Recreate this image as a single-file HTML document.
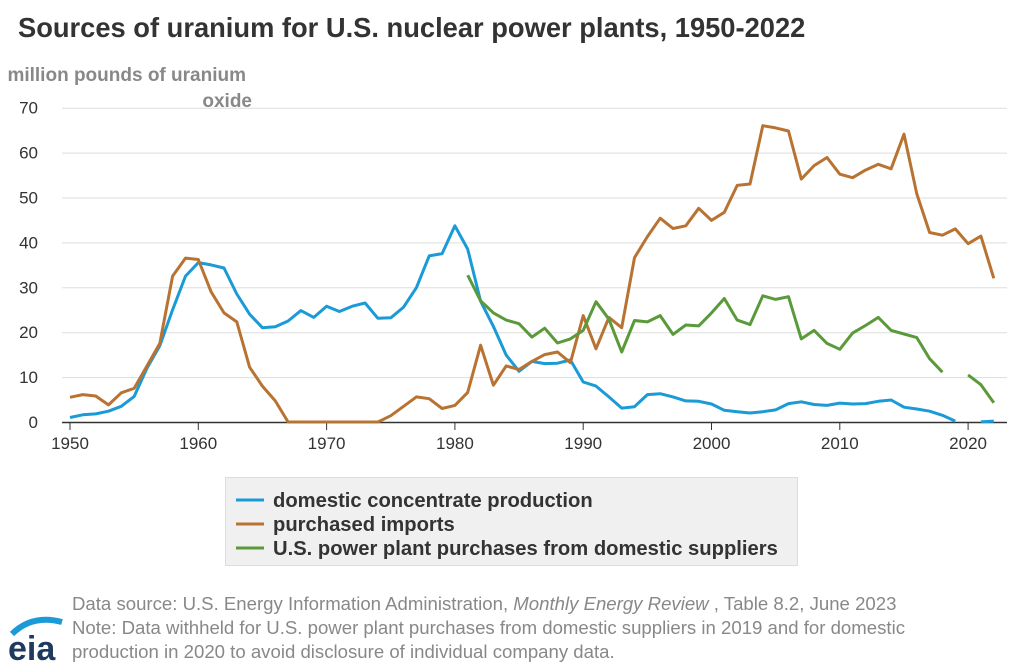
<!DOCTYPE html>
<html><head><meta charset="utf-8"><style>
body{margin:0;width:1024px;height:666px;background:#fff;font-family:"Liberation Sans",sans-serif;overflow:hidden}
</style></head><body>
<svg width="1024" height="666" xmlns="http://www.w3.org/2000/svg" font-family="Liberation Sans, sans-serif">
<text x="18" y="37" font-size="27.3" font-weight="bold" fill="#333">Sources of uranium for U.S. nuclear power plants, 1950-2022</text>
<text x="246" y="81" font-size="19" font-weight="bold" fill="#888" text-anchor="end">million pounds of uranium</text>
<text x="252" y="107" font-size="19" font-weight="bold" fill="#888" text-anchor="end">oxide</text>
<g id="grid" stroke="#ddd" stroke-width="1"></g>
<g id="ylab" font-size="17" fill="#333" text-anchor="end"></g>
<g id="xlab" font-size="17" fill="#333" text-anchor="middle"></g>
<line x1="62" y1="422.5" x2="1007" y2="422.5" stroke="#333" stroke-width="1.5"/>
<g id="series" fill="none" stroke-width="3" stroke-linejoin="round"></g>
<rect x="225.5" y="477.5" width="572" height="88" fill="#f0f0f0" stroke="#ddd"/>
<line x1="236" y1="500" x2="264" y2="500" stroke="#1a9ad6" stroke-width="3"/>
<line x1="236" y1="524" x2="264" y2="524" stroke="#b87333" stroke-width="3"/>
<line x1="236" y1="548" x2="264" y2="548" stroke="#5a9a3a" stroke-width="3"/>
<g font-size="20.2" font-weight="bold" fill="#333">
<text x="273" y="507">domestic concentrate production</text>
<text x="273" y="531">purchased imports</text>
<text x="273" y="555">U.S. power plant purchases from domestic suppliers</text>
</g>
<g font-size="18.6" fill="#888">
<text x="72" y="610">Data source: U.S. Energy Information Administration, <tspan font-style="italic">Monthly Energy Review</tspan> , Table 8.2, June 2023</text>
<text x="72" y="634">Note: Data withheld for U.S. power plant purchases from domestic suppliers in 2019 and for domestic</text>
<text x="72" y="658">production in 2020 to avoid disclosure of individual company data.</text>
</g>
<path d="M12 634 Q32 614 62 622" stroke="#1a9ad6" stroke-width="6" fill="none"/>
<text x="8" y="660" font-size="34" font-weight="bold" fill="#1f3a5f">eia</text>
<script>
var ns="http://www.w3.org/2000/svg";
function X(y){return 70+(y-1950)*12.83}
function Y(v){return 422-v*4.49}
var g=document.getElementById("grid"),yl=document.getElementById("ylab"),xl=document.getElementById("xlab");
for(var v=10;v<=70;v+=10){var l=document.createElementNS(ns,"line");l.setAttribute("x1",62);l.setAttribute("x2",1007);l.setAttribute("y1",Y(v)+.5);l.setAttribute("y2",Y(v)+.5);g.appendChild(l);}
for(var v=0;v<=70;v+=10){var t=document.createElementNS(ns,"text");t.setAttribute("x",38);t.setAttribute("y",Y(v)+6);t.textContent=v;yl.appendChild(t);}
for(var y=1950;y<=2020;y+=10){var t=document.createElementNS(ns,"text");t.setAttribute("x",X(y));t.setAttribute("y",449);t.textContent=y;xl.appendChild(t);
var l=document.createElementNS(ns,"line");l.setAttribute("x1",X(y));l.setAttribute("x2",X(y));l.setAttribute("y1",422);l.setAttribute("y2",430);l.setAttribute("stroke","#333");g.appendChild(l);}
var blue=[1.0,1.6,1.8,2.4,3.5,5.7,12,17,25,32.5,35.5,35,34.3,28.5,24,21,21.2,22.5,24.8,23.3,25.8,24.6,25.8,26.5,23.1,23.2,25.6,29.9,37,37.5,43.7,38.5,26.9,21.3,14.9,11.3,13.5,13,13.1,13.8,8.9,8,5.6,3.1,3.4,6.1,6.3,5.6,4.7,4.6,4,2.6,2.3,2,2.3,2.7,4.1,4.5,3.9,3.7,4.2,4,4.1,4.6,4.9,3.3,2.9,2.4,1.5,0.2,null,0.02,0.2];
var orange=[5.5,6.1,5.8,3.8,6.5,7.5,12.5,17.5,32.5,36.5,36.2,29,24.3,22.3,12.2,8,4.7,0,0,0,0,0,0,0,0,1.4,3.5,5.6,5.2,3,3.7,6.6,17.1,8.2,12.5,11.7,13.5,15,15.6,13.2,23.7,16.3,23.3,21,36.6,41.3,45.4,43.1,43.7,47.6,44.9,46.7,52.7,53,66,65.5,64.8,54.1,57.1,58.9,55.2,54.4,56.1,57.4,56.4,64.1,50.8,42.2,41.6,43,39.7,41.4,32];
var green=[];for(var i=0;i<31;i++)green.push(null);
green=green.concat([32.7,27,24.3,22.7,21.9,18.9,20.9,17.6,18.5,20.4,26.8,22.9,15.6,22.6,22.3,23.7,19.5,21.6,21.4,24.3,27.5,22.7,21.7,28.1,27.3,27.9,18.5,20.4,17.5,16.2,19.8,21.5,23.3,20.4,19.6,18.8,14.1,11.1,null,10.5,8.3,4.3]);
var s=document.getElementById("series");
[[blue,"#1a9ad6"],[orange,"#b87333"],[green,"#5a9a3a"]].forEach(function(p){
var d="",pen=false;p[0].forEach(function(v,i){if(v===null){pen=false;return;}d+=(pen?"L":"M")+X(1950+i).toFixed(1)+" "+Y(v).toFixed(1);pen=true;});
var e=document.createElementNS(ns,"path");e.setAttribute("d",d);e.setAttribute("stroke",p[1]);s.appendChild(e);});
</script>
</svg>
</body></html>
